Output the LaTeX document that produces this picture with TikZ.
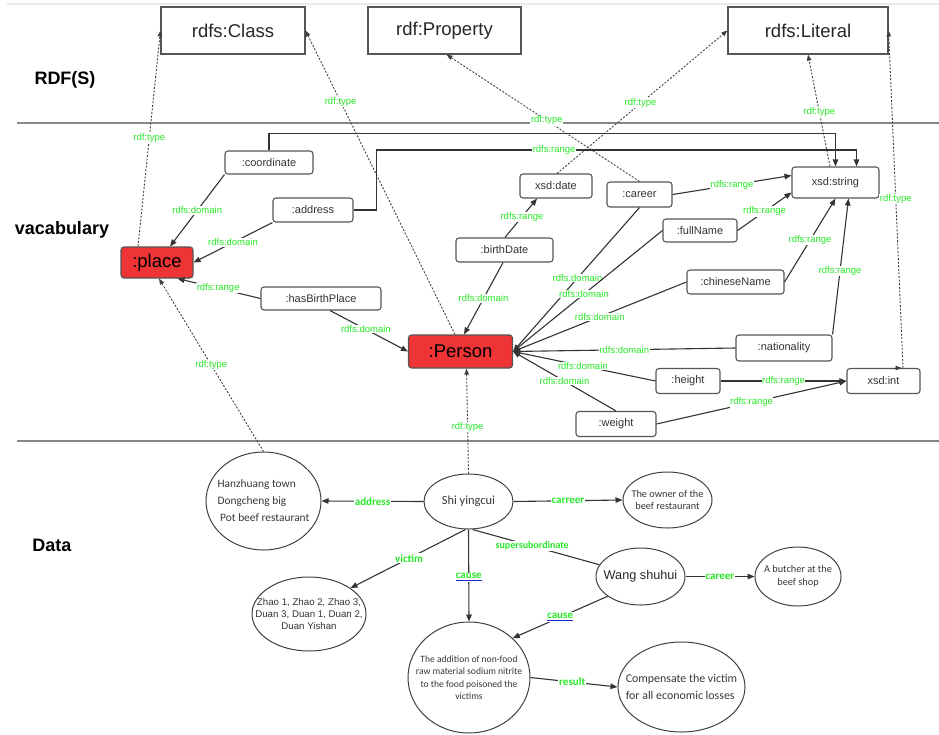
\documentclass[tikz,border=0pt]{standalone}
\usepackage{fontspec}
\setmainfont{Liberation Sans}
\newfontfamily\carl{Carlito}
\usetikzlibrary{arrows.meta,shapes.geometric,calc}
\definecolor{lblgreen}{RGB}{40,232,40}
\definecolor{redfill}{RGB}{238,52,52}
\definecolor{bordergray}{RGB}{85,85,85}
\definecolor{sepgray}{RGB}{135,135,135}
\definecolor{ulblue}{RGB}{30,40,200}
\definecolor{txtgray}{RGB}{55,55,55}
\newcommand\causelbl{\setbox0\hbox{cause}\rlap{\color{ulblue}\rule[-2.4pt]{\wd0}{1.1pt}}\box0}
\tikzset{
  topbox/.style={draw=bordergray,line width=1.1pt,inner sep=0pt,font=\fontsize{18.5}{20}\selectfont,text=black!85},
  vbox/.style={draw=bordergray,line width=1.1pt,rounded corners=3pt,inner sep=0pt,font=\fontsize{11}{13}\selectfont,text=black!80},
  redbox/.style={vbox,fill=redfill,font=\fontsize{18.5}{20}\selectfont,text=black},
  sect/.style={font=\bfseries\fontsize{18}{20}\selectfont},
  dataell/.style={ellipse,draw=black!75,line width=1pt,inner sep=0pt},
  edge/.style={draw=black!80,line width=1.1pt,-{Triangle[length=7pt,width=5.5pt]}},
  plainedge/.style={draw=black!80,line width=1.1pt},
  typeedge/.style={draw=black!75,line width=0.9pt,dash pattern=on 2pt off 1.6pt,-{Triangle[length=6pt,width=4.5pt]}},
  lbl/.style={text=lblgreen,font=\fontsize{9.5}{10}\selectfont,fill=white,inner sep=0.6pt},
  dlbl/.style={text=lblgreen,font=\carl\bfseries\fontsize{11}{12}\selectfont,fill=white,inner sep=0.8pt},
  sep/.style={draw=sepgray,line width=2pt}
}
\begin{document}
\begin{tikzpicture}[x=1pt,y=-1pt]
\useasboundingbox (0,0) rectangle (939,734);
% separators
\draw[draw=black!8,line width=1.5pt] (7,4) -- (939,4);
\draw[sep] (17,123) -- (939,123);
\draw[sep] (17,441) -- (939,441);
% section titles
\node[sect] (tRDF) at (65,80) {RDF(S)};
\node[sect] (tVoc) at (62,230) {vacabulary};
\node[sect] (tData) at (52,545) {Data};
% RDF(S) boxes
\node[topbox,minimum width=144pt,minimum height=47pt] (Class) at (233,30.5) {rdfs:Class};
\node[topbox,minimum width=153pt,minimum height=47pt] (Property) at (444.5,30.5) {rdf:Property};
\node[topbox,minimum width=160pt,minimum height=47pt] (Literal) at (808,30.5) {rdfs:Literal};
% vocabulary boxes
\node[vbox,minimum width=88pt,minimum height=23pt] (coordinate) at (269,162.5) {:coordinate};
\node[vbox,minimum width=80pt,minimum height=24pt] (address) at (313,210) {:address};
\node[redbox,minimum width=72pt,minimum height=31pt] (place) at (157,262.5) {:place};
\node[vbox,minimum width=120pt,minimum height=23pt] (hasBirthPlace) at (321,298.5) {:hasBirthPlace};
\node[vbox,minimum width=72pt,minimum height=24pt] (date) at (556,186) {xsd:date};
\node[vbox,minimum width=97pt,minimum height=24pt] (birthDate) at (504.5,250) {:birthDate};
\node[vbox,minimum width=65pt,minimum height=25pt] (career) at (639.5,194.5) {:career};
\node[vbox,minimum width=87pt,minimum height=31pt] (string) at (835.5,182.5) {xsd:string};
\node[vbox,minimum width=74pt,minimum height=23pt] (fullName) at (700,230.5) {:fullName};
\node[vbox,minimum width=97pt,minimum height=24pt] (chineseName) at (735.5,282) {:chineseName};
\node[redbox,minimum width=104pt,minimum height=33pt] (Person) at (460.5,351.5) {:Person};
\node[vbox,minimum width=96pt,minimum height=26pt] (nationality) at (784,348) {:nationality};
\node[vbox,minimum width=64pt,minimum height=25pt] (height) at (688,381) {:height};
\node[vbox,minimum width=73pt,minimum height=25pt] (xsdint) at (883.5,381) {xsd:int};
\node[vbox,minimum width=80pt,minimum height=25pt] (weight) at (616,424) {:weight};
% data ellipses
\node[dataell,minimum width=115pt,minimum height=98pt,
  label={[align=left,text=txtgray,font=\carl\fontsize{11.4}{17}\selectfont]center:{Hanzhuang town\\Dongcheng big\\\ Pot beef restaurant}}] (hz) at (263.5,501) {};
\node[dataell,minimum width=89pt,minimum height=55pt,
  label={[text=txtgray,font=\carl\fontsize{12.4}{14}\selectfont]center:{Shi yingcui}}] (shi) at (468.5,501.5) {};
\node[dataell,minimum width=89pt,minimum height=56pt,
  label={[align=center,text=txtgray,font=\carl\fontsize{10.3}{12.7}\selectfont]center:{The owner of the\\beef restaurant}}] (owner) at (667.5,500) {};
\node[dataell,minimum width=89pt,minimum height=57pt,
  label={[text=black!85,font=\fontsize{12.7}{14}\selectfont]center:{Wang shuhui}}] (wang) at (640.5,576.5) {};
\node[dataell,minimum width=86pt,minimum height=59pt,
  label={[align=center,text=txtgray,font=\carl\fontsize{10.3}{12.7}\selectfont]center:{A butcher at the\\beef shop}}] (butcher) at (798,576.5) {};
\node[dataell,minimum width=114pt,minimum height=74pt,
  label={[align=center,text=black!80,font=\fontsize{9.7}{11.7}\selectfont]center:{Zhao 1, Zhao 2, Zhao 3,\\Duan 3, Duan 1, Duan 2,\\Duan Yishan}}] (zhao) at (309,614) {};
\node[dataell,minimum width=122pt,minimum height=111pt,
  label={[align=center,text=txtgray,font=\carl\fontsize{9.6}{12.5}\selectfont]center:{The addition of non-food\\raw material sodium nitrite\\to the food poisoned the\\victims}}] (addition) at (469,677.5) {};
\node[dataell,minimum width=127pt,minimum height=90pt,
  label={[align=left,text=txtgray,font=\carl\fontsize{11.9}{16.7}\selectfont]center:{Compensate the victim\\for all economic losses}}] (comp) at (681.5,687) {};
% rdf:type edges
\draw[typeedge] (hz.north) -- node[lbl,pos=0.5]{rdf:type} ($(place.south)+(2,0)$);
\draw[typeedge] ($(place.north)+(-19,0)$) -- node[lbl,pos=0.5]{rdf:type} (Class.west);
\draw[typeedge] ($(Person.north)+(-5.5,0)$) -- node[lbl,pos=0.765]{rdf:type} (Class.east);
\draw[typeedge] (shi.north) -- node[lbl,pos=0.44]{rdf:type} ($(Person.south)+(6,0)$);
\draw[typeedge] (career.north) -- node[lbl,pos=0.48]{rdf:type} ($(Property.south)+(2,0)$);
\draw[typeedge] ($(date.north)+(1,0)$) -- node[lbl,pos=0.49]{rdf:type} (Literal.west);
\draw[typeedge] ($(string.north)+(-5.5,0)$) -- node[lbl,pos=0.49]{rdf:type} (Literal.south);
\draw[typeedge] ($(xsdint.north)+(19.5,0)$) -- node[lbl,pos=0.5]{rdf:type} (Literal.east);
\draw[draw=black!75,line width=0.8pt,-{Triangle[length=6pt,width=4.5pt]}] ($(xsdint.north)+(9,0)$) -- ($(xsdint.north)+(18,0)$);
% place edges
\draw[edge] (coordinate.south west) -- node[lbl]{rdfs:domain} ($(place.north)+(13,0)$);
\draw[edge] (address.south west) -- node[lbl]{rdfs:domain} (place.east);
\draw[edge] (hasBirthPlace.west) -- node[lbl,pos=0.51]{rdfs:range} ($(place.south east)+(-16,0)$);
\draw[edge] ($(hasBirthPlace.south)+(9,0)$) -- node[lbl,pos=0.46]{rdfs:domain} (Person.west);
% routed ranges to xsd:string
\draw[edge] (coordinate.north) -- ++(0,-17) -| (string.north);
\draw[edge] (address.east) -- ++(23,0) -- ++(0,-60) -| node[lbl,pos=0.185]{rdfs:range} ($(string.north)+(21,0)$);
% birthDate
\draw[edge] ($(birthDate.north)+(0.5,0)$) -- node[lbl,pos=0.53]{rdfs:range} ($(date.south)+(-19,0)$);
\draw[edge] ($(birthDate.south)+(-1.5,0)$) -- node[lbl]{rdfs:domain} ($(Person.north)+(3.5,0)$);
% ranges to xsd:string
\draw[edge] (career.east) -- node[lbl]{rdfs:range} ($(string.west)+(0,-7)$);
\draw[edge] (fullName.east) -- node[lbl]{rdfs:range} ($(string.west)+(0,10)$);
\draw[edge] (chineseName.east) -- node[lbl]{rdfs:range} (string.south);
\draw[edge] (nationality.north east) -- node[lbl,pos=0.47]{rdfs:range} ($(string.south)+(13,0)$);
% ranges to xsd:int
\draw[edge] (height.east) -- node[lbl]{rdfs:range} (xsdint.west);
\draw[edge] (weight.east) -- node[lbl]{rdfs:range} (xsdint.west);
% domains to Person
\draw[edge] (career.south) -- node[lbl,pos=0.49]{rdfs:domain} (Person.east);
\draw[edge] (fullName.west) -- node[lbl,pos=0.525]{rdfs:domain} (Person.east);
\draw[edge] (chineseName.west) -- node[lbl]{rdfs:domain} (Person.east);
\draw[edge] (nationality.west) -- node[lbl]{rdfs:domain} (Person.east);
\draw[edge] (height.west) -- node[lbl,pos=0.51]{rdfs:domain} (Person.east);
\draw[edge] (weight.north) -- node[lbl]{rdfs:domain} (Person.east);
% data edges
\draw[edge] (shi.west) -- node[dlbl]{address} (hz.east);
\draw[edge] (shi.east) -- node[dlbl]{carreer} (owner.west);
\draw[edge] ($(shi.south)+(-3,0)$) -- node[dlbl,pos=0.49]{victim} (zhao.32);
\draw[edge] (shi.south) -- node[dlbl,pos=0.52]{\causelbl} (addition.north);
\draw[plainedge] ($(shi.south)+(4,0)$) -- node[dlbl,pos=0.47,font=\carl\bfseries\fontsize{10}{11}\selectfont]{supersubordinate} (wang.164);
\draw[edge] (wang.211) -- node[dlbl]{\causelbl} (addition.42);
\draw[edge] (wang.east) -- node[dlbl]{career} (butcher.west);
\draw[edge] (addition.east) -- node[dlbl,pos=0.48]{result} (comp.west);
\end{tikzpicture}
\end{document}
